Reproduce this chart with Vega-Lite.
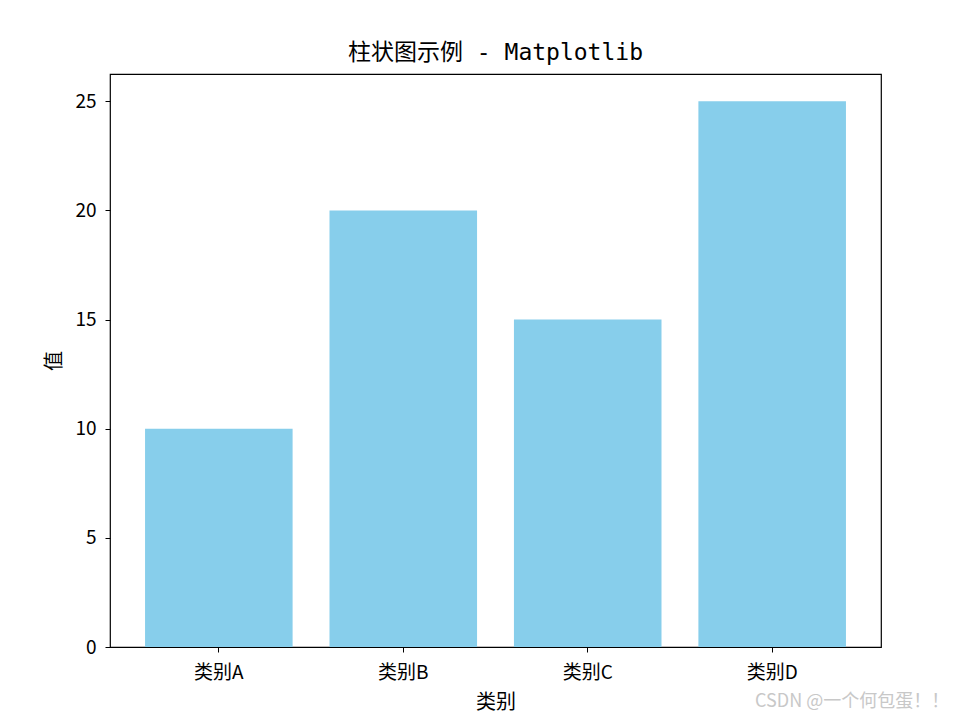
{
  "$schema": "https://vega.github.io/schema/vega-lite/v6.json",
  "width": 771,
  "height": 573,
  "autosize": {"type": "none"},
  "padding": {"left": 110, "top": 74, "right": 76, "bottom": 68},
  "background": "white",
  "title": {
    "text": "柱状图示例 - Matplotlib",
    "font": "DejaVu Sans Mono, Noto Sans CJK SC",
    "fontSize": 23,
    "fontWeight": "normal",
    "color": "black",
    "offset": 9
  },
  "config": {
    "view": {"stroke": "black", "strokeWidth": 1.2},
    "axis": {
      "labelFont": "Noto Sans CJK SC",
      "titleFont": "Noto Sans CJK SC",
      "labelFontSize": 19,
      "titleFontSize": 20,
      "titleFontWeight": "normal",
      "labelColor": "black",
      "titleColor": "black",
      "tickColor": "black",
      "domainColor": "black",
      "tickSize": 5,
      "grid": false
    }
  },
  "data": {
    "values": [
      {"category": "类别A", "value": 10},
      {"category": "类别B", "value": 20},
      {"category": "类别C", "value": 15},
      {"category": "类别D", "value": 25}
    ]
  },
  "layer": [
    {
      "mark": {"type": "bar", "color": "#87CEEB"},
      "encoding": {
        "x": {
          "field": "category",
          "type": "nominal",
          "title": "类别",
          "sort": null,
          "scale": {"paddingInner": 0.2, "paddingOuter": 0.19},
          "axis": {"labelAngle": 0, "labelPadding": 11, "titleY": 45, "domain": false}
        },
        "y": {
          "field": "value",
          "type": "quantitative",
          "title": "值",
          "scale": {"domain": [0, 26.25], "nice": false},
          "axis": {"values": [0, 5, 10, 15, 20, 25], "titleAngle": 270, "titleX": -46, "domain": false, "labelPadding": 9}
        }
      }
    },
    {
      "data": {"values": [{"label": "CSDN @一个何包蛋！！"}]},
      "mark": {"type": "text", "clip": false, "color": "#c8c8c8", "fontSize": 18, "font": "Noto Sans CJK SC", "dx": 80, "baseline": "middle"},
      "encoding": {
        "x": {"datum": "类别D"},
        "y": {"datum": -2.5},
        "text": {"field": "label"}
      }
    }
  ]
}
